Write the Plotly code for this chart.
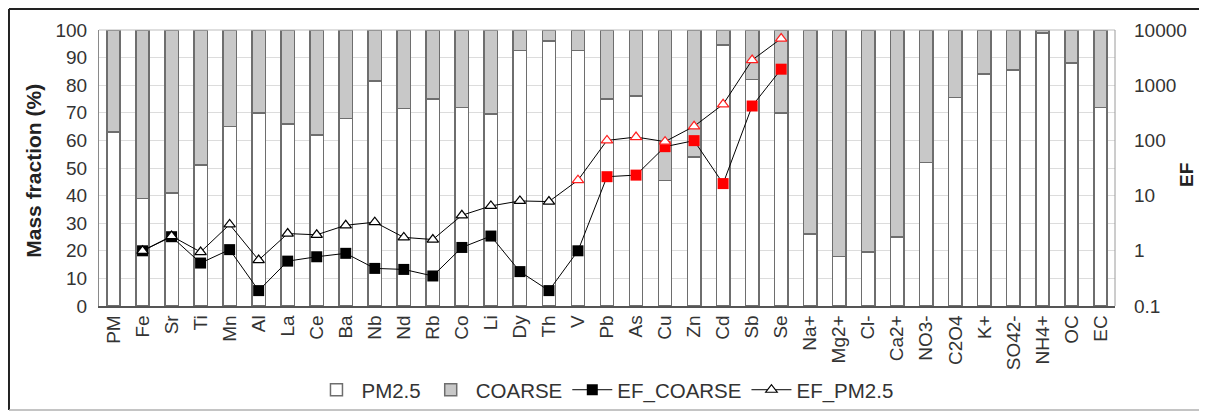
import plotly.graph_objects as go

categories = ["PM", "Fe", "Sr", "Ti", "Mn", "Al", "La", "Ce", "Ba", "Nb", "Nd", "Rb", "Co", "Li",
              "Dy", "Th", "V", "Pb", "As", "Cu", "Zn", "Cd", "Sb", "Se", "Na+", "Mg2+", "Cl-",
              "Ca2+", "NO3-", "C2O4", "K+", "SO42-", "NH4+", "OC", "EC"]

pm25_fraction = [63, 39, 41, 51, 65, 70, 66, 62, 68, 81.5, 71.5, 75, 72, 69.5,
                 92.5, 96, 92.5, 75, 76, 45.5, 54, 94.5, 82, 70, 26, 18, 19.5,
                 25, 52, 75.5, 84, 85.5, 99, 88, 72]
coarse_fraction = [round(100 - v, 2) for v in pm25_fraction]

ef_coarse = [None, 1.0, 1.8, 0.6, 1.05, 0.19, 0.65, 0.78, 0.9, 0.48, 0.46, 0.35, 1.15, 1.85,
             0.42, 0.19, 1.0, 22, 23.5, 77, 99, 16.5, 420, 1950,
             None, None, None, None, None, None, None, None, None, None, None]
ef_pm25 = [None, 1.0, 1.85, 0.95, 3.0, 0.68, 2.05, 1.95, 2.9, 3.3, 1.75, 1.6, 4.4, 6.5,
           8.0, 7.8, 19, 100, 115, 95, 180, 450, 2850, 7000,
           None, None, None, None, None, None, None, None, None, None, None]

red_coarse = {"Pb", "As", "Cu", "Zn", "Cd", "Sb", "Se"}
red_pm25 = {"V", "Pb", "As", "Cu", "Zn", "Cd", "Sb", "Se"}

coarse_colors = ["#ff0000" if c in red_coarse else "#000000" for c in categories]
pm25_line_colors = ["#ff2020" if c in red_pm25 else "#000000" for c in categories]

font_family = "Liberation Sans, Arial, sans-serif"
bar_outline = dict(color="#6e6e6e", width=1.5)

fig = go.Figure()
fig.add_trace(go.Bar(x=categories, y=pm25_fraction, name="PM2.5",
                     marker=dict(color="#ffffff", line=bar_outline), width=0.46))
fig.add_trace(go.Bar(x=categories, y=coarse_fraction, name="COARSE",
                     marker=dict(color="#c8c8c8", line=bar_outline), width=0.46))
fig.add_trace(go.Scatter(x=categories, y=ef_coarse, name="EF_COARSE", yaxis="y2",
                         mode="lines+markers",
                         line=dict(color="#000000", width=1),
                         marker=dict(symbol="square", size=11, color=coarse_colors,
                                     line=dict(width=0))))
fig.add_trace(go.Scatter(x=categories, y=ef_pm25, name="EF_PM2.5", yaxis="y2",
                         mode="lines+markers",
                         line=dict(color="#000000", width=1),
                         marker=dict(symbol="triangle-up", size=10, color="#ffffff",
                                     line=dict(width=1.2, color=pm25_line_colors))))

# The page places the figure 8px in from the top-left corner, so the figure is 8px smaller.
fig.update_layout(
    width=1199, height=404,
    margin=dict(l=91, r=92, t=22, b=106, autoexpand=False),
    paper_bgcolor="#ffffff", plot_bgcolor="#ffffff",
    barmode="stack", bargap=0.54,
    font=dict(family=font_family, size=19, color="#333333"),
    showlegend=True,
    legend=dict(orientation="h", x=0.498, xanchor="center", y=-0.304, yanchor="middle",
                font=dict(size=20.5, color="#333333"), traceorder="normal",
                itemwidth=40, bgcolor="rgba(0,0,0,0)"),
    xaxis=dict(type="category", tickangle=-90, showgrid=False,
               showline=True, linecolor="#555555", linewidth=1.5, mirror=False,
               ticks="", tickfont=dict(size=19, color="#333333"),
               range=[-0.5, len(categories) - 0.5]),
    yaxis=dict(range=[0, 100], dtick=10, showgrid=True, gridcolor="#dcdcdc", gridwidth=1,
               zeroline=False, showline=True, linecolor="#8a8a8a", linewidth=1,
               ticks="", ticklabelstandoff=7,
               tickfont=dict(size=19, color="#333333")),
    yaxis2=dict(type="log", range=[-1, 4], overlaying="y", side="right", showgrid=False,
                zeroline=False, showline=False, ticks="", ticklabelstandoff=18,
                tickvals=[0.1, 1, 10, 100, 1000, 10000],
                ticktext=["0.1", "1", "10", "100", "1000", "10000"],
                tickfont=dict(size=19, color="#333333")),
    annotations=[
        dict(text="<b>Mass fraction (%)</b>", xref="paper", yref="paper",
             x=-0.064, y=0.49, xanchor="center", yanchor="middle", textangle=-90,
             showarrow=False, font=dict(size=21, color="#222222")),
        dict(text="<b>EF</b>", xref="paper", yref="paper",
             x=1.0699, y=0.4746, xanchor="center", yanchor="middle", textangle=-90,
             showarrow=False, font=dict(size=19, color="#222222")),
    ],
    shapes=[
        dict(type="line", xref="paper", yref="paper", x0=-0.0886, x1=1.0837, y0=1.0761, y1=1.0761,
             line=dict(color="#222222", width=2)),
        dict(type="line", xref="paper", yref="paper", x0=-0.0886, x1=-0.0886, y0=1.0761, y1=-0.3768,
             line=dict(color="#222222", width=2)),
        dict(type="line", xref="paper", yref="paper", x0=-0.0886, x1=1.0837, y0=-0.3768, y1=-0.3768,
             line=dict(color="#b0b0b0", width=1.5)),
        dict(type="line", xref="paper", yref="paper", x0=1.0837, x1=1.0837, y0=1.0761, y1=-0.3768,
             line=dict(color="#d8d8d8", width=1)),
        dict(type="line", xref="paper", yref="paper", x0=0, x1=1, y0=1, y1=1,
             line=dict(color="#bdbdbd", width=1)),
        dict(type="line", xref="paper", yref="paper", x0=1, x1=1, y0=0, y1=1,
             line=dict(color="#9a9a9a", width=1)),
    ],
)

fig.write_html("out.html")
